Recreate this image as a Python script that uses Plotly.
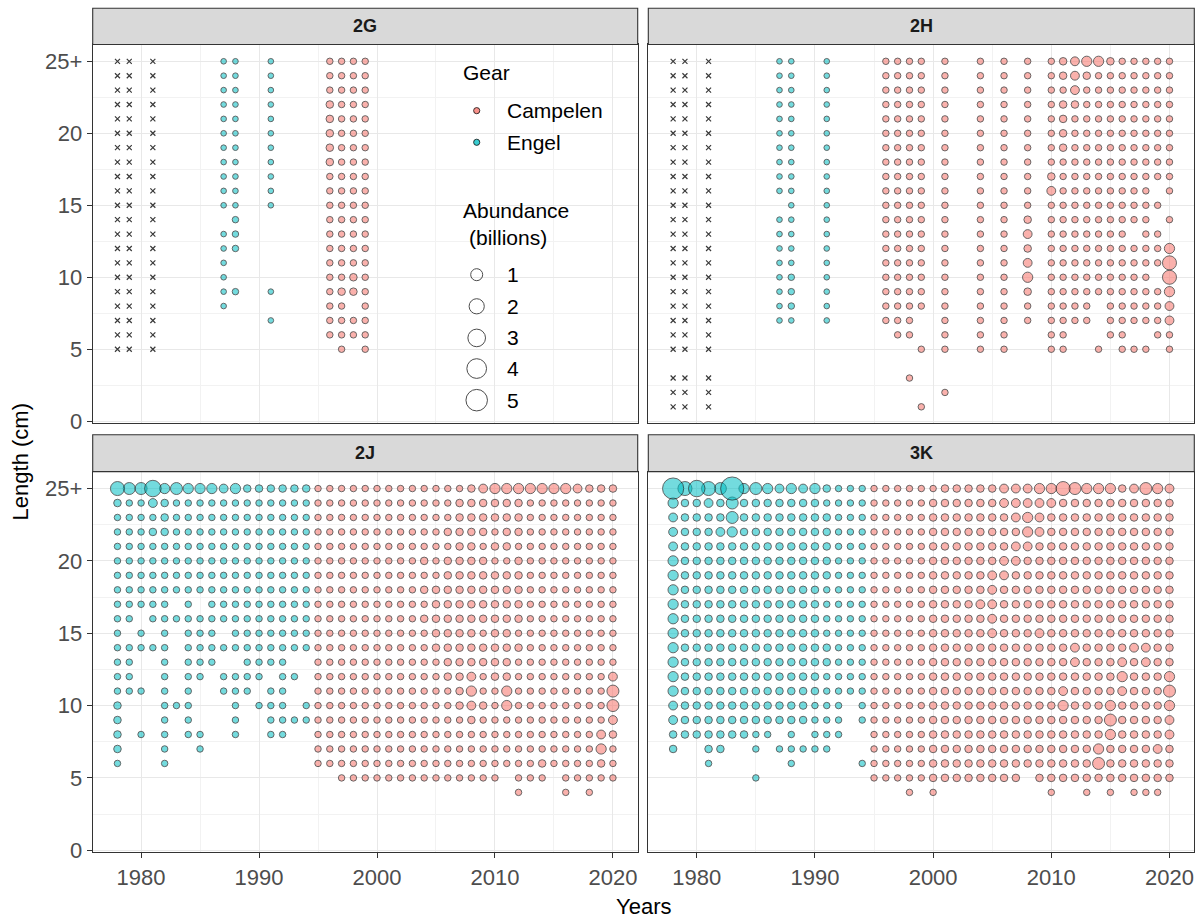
import plotly.graph_objects as go

W, H = 1202, 923
FONT = "Liberation Sans, Arial, sans-serif"

# ---------------------------------------------------------------- data
YEARS = list(range(1978, 2021))          # grid columns
LENGTHS = list(range(25, 0, -1))          # grid rows, 25+ cm first
GEAR_SWITCH_YEAR = 1995                   # Engel trawl before, Campelen from then on
DIVISIONS = ["2G", "2H", "2J", "3K"]

# abundance class (billions) of each grid character;
# "." = no catch, "x" = length class not available for that survey
ABUNDANCE_CLASS = {"1": 0.03, "2": 0.08, "3": 0.18, "4": 0.35, "5": 0.6,
                   "6": 1.0, "7": 1.6, "8": 2.5, "9": 3.6, "A": 4.8, "B": 6.0}

# column groups: 78-79 | 80-84 | 85-89 | 90-94 | 95-99 | 00-04 | 05-09 | 10-14 | 15-19 | 20
GRID_2G = [
    "xx .x... ..11. .1... .2222 ..... ..... ..... ..... .",  # 25+
    "xx .x... ..11. .1... .2222 ..... ..... ..... ..... .",  # 24
    "xx .x... ..11. .1... .2222 ..... ..... ..... ..... .",  # 23
    "xx .x... ..11. .1... .3222 ..... ..... ..... ..... .",  # 22
    "xx .x... ..11. .1... .3222 ..... ..... ..... ..... .",  # 21
    "xx .x... ..11. .1... .3222 ..... ..... ..... ..... .",  # 20
    "xx .x... ..11. .1... .3222 ..... ..... ..... ..... .",  # 19
    "xx .x... ..11. .1... .3222 ..... ..... ..... ..... .",  # 18
    "xx .x... ..11. .1... .2222 ..... ..... ..... ..... .",  # 17
    "xx .x... ..11. .1... .2222 ..... ..... ..... ..... .",  # 16
    "xx .x... ..11. .1... .2222 ..... ..... ..... ..... .",  # 15
    "xx .x... ...2. ..... .2222 ..... ..... ..... ..... .",  # 14
    "xx .x... ..12. ..... .2222 ..... ..... ..... ..... .",  # 13
    "xx .x... ..12. ..... .2222 ..... ..... ..... ..... .",  # 12
    "xx .x... ..1.. ..... .2222 ..... ..... ..... ..... .",  # 11
    "xx .x... ..1.. ..... .2232 ..... ..... ..... ..... .",  # 10
    "xx .x... ..12. .1... .2332 ..... ..... ..... ..... .",  # 9
    "xx .x... ..1.. ..... .22.2 ..... ..... ..... ..... .",  # 8
    "xx .x... ..... .1... .2222 ..... ..... ..... ..... .",  # 7
    "xx .x... ..... ..... .2222 ..... ..... ..... ..... .",  # 6
    "xx .x... ..... ..... ..2.2 ..... ..... ..... ..... .",  # 5
    ".. ..... ..... ..... ..... ..... ..... ..... ..... .",  # 4
    ".. ..... ..... ..... ..... ..... ..... ..... ..... .",  # 3
    ".. ..... ..... ..... ..... ..... ..... ..... ..... .",  # 2
    ".. ..... ..... ..... ..... ..... ..... ..... ..... .",  # 1
]

GRID_2H = [
    "xx .x... ..11. .1... .2222 .2..2 .2.2. 23455 32222 2",  # 25+
    "xx .x... ..11. .1... .2222 .2..2 .2.2. 23432 22222 2",  # 24
    "xx .x... ..11. .1... .2222 .2..2 .2.2. 22422 22222 2",  # 23
    "xx .x... ..11. .1... .2222 .2..2 .2.2. 23322 22222 2",  # 22
    "xx .x... ..11. .1... .2222 .2..2 .2.2. 23222 22222 2",  # 21
    "xx .x... ..11. .1... .2222 .2..2 .2.2. 23222 22222 2",  # 20
    "xx .x... ..11. .1... .2222 .2..2 .2.2. 23222 22222 2",  # 19
    "xx .x... ..11. .1... .2222 .2..2 .2.2. 22222 22222 2",  # 18
    "xx .x... ..11. .1... .2222 .2..2 .2.2. 32222 22222 2",  # 17
    "xx .x... ..11. .1... .2222 .2..2 .2.2. 42222 2222. 2",  # 16
    "xx .x... ...1. .1... .2222 .2..2 .2.2. 22222 22222 .",  # 15
    "xx .x... ..11. .1... .2222 .2..2 .2.3. 22222 2222. 2",  # 14
    "xx .x... ..11. .1... .2222 .2..2 .2.4. 22222 22.22 .",  # 13
    "xx .x... ..11. .1... .2222 .2..2 .2.3. 22222 22222 5",  # 12
    "xx .x... ..11. .1... .2222 .2..2 .2.4. 22222 22222 7",  # 11
    "xx .x... ..12. .1... .2222 .2..2 .2.5. 22222 2222. 7",  # 10
    "xx .x... ..12. .1... .2222 .2..2 .2.3. 22222 22222 5",  # 9
    "xx .x... ..12. .1... .2222 .2..2 .2.2. 2222. 22222 4",  # 8
    "xx .x... ..11. .1... .222. .2..2 .2.2. 2222. 22222 4",  # 7
    "xx .x... ..... ..... ..22. .2..2 .2... 22... 22..2 2",  # 6
    "xx .x... ..... ..... ....2 .2..2 .2... 22..2 .222. 2",  # 5
    ".. ..... ..... ..... ..... ..... ..... ..... ..... .",  # 4
    "xx .x... ..... ..... ...2. ..... ..... ..... ..... .",  # 3
    "xx .x... ..... ..... ..... .2... ..... ..... ..... .",  # 2
    "xx .x... ..... ..... ....2 ..... ..... ..... ..... .",  # 1
]

GRID_2J = [
    "76 68565 55453 33333 22222 22222 22234 55555 55433 3",  # 25+
    "32 24322 22222 22222 22222 22222 22333 33322 22222 2",  # 24
    "22 22322 22222 22222 22222 22222 22333 33322 22222 2",  # 23
    "22 23322 22222 22222 22222 22222 23333 23322 22222 2",  # 22
    "22 22222 22222 22222 22222 22222 22332 33222 22222 2",  # 21
    "22 22222 22222 22222 22222 22223 23333 22322 22222 2",  # 20
    "22 22222 22222 22222 22222 22222 23333 33322 22222 2",  # 19
    "22 22222 22222 22222 22222 22223 33333 33322 22222 2",  # 18
    "22 222.2 .2222 22222 22222 22222 33333 33322 22222 2",  # 17
    "22 .2222 22222 22222 22222 22223 33333 33322 22222 2",  # 16
    "2. 2.2.2 22.22 22222 22222 22222 33332 33222 22222 2",  # 15
    "22 222.2 22222 22222 22222 22222 33333 33322 22222 2",  # 14
    "22 ..2.2 22..2 222.. 22222 22222 23333 33222 22222 2",  # 13
    "22 ..2.2 2.222 2.22. 22222 22222 23342 33222 22222 4",  # 12
    "22 2.2.2 ..222 .22.. 22222 22222 22352 25222 22222 6",  # 11
    "3. ..222 ...2. 222.2 22222 22222 22343 25222 22222 6",  # 10
    "3. ..2.2 ...2. .2222 22222 22222 22232 22222 22222 4",  # 9
    "3. 2.2.2 2..2. .22.. 22222 22222 22222 22222 22224 3",  # 8
    "3. ..2.. 2.... ..... 22222 22222 22222 22222 22225 2",  # 7
    "2. ..2.. ..... ..... 22222 22222 22222 22223 22223 2",  # 6
    ".. ..... ..... ..... ..222 22222 22222 2.222 .2222 2",  # 5
    ".. ..... ..... ..... ..... ..... ..... ..2.. .2.2. .",  # 4
    ".. ..... ..... ..... ..... ..... ..... ..... ..... .",  # 3
    ".. ..... ..... ..... ..... ..... ..... ..... ..... .",  # 2
    ".. ..... ..... ..... ..... ..... ..... ..... ..... .",  # 1
]

GRID_3K = [
    "A7 876B5 65454 53222 22222 23333 34445 57655 53465 4",  # 25+
    "53 34363 33333 32222 22222 33333 34444 43333 33333 3",  # 24
    "43 33363 33333 33222 22222 33333 33454 33333 33333 3",  # 23
    "43 33453 33333 33222 22222 33333 33354 33333 33333 3",  # 22
    "43 33333 33333 33222 22222 33333 33443 33333 33333 3",  # 21
    "53 33333 33333 33222 22222 33333 34433 33333 33333 3",  # 20
    "53 33333 33333 33222 22222 33333 44333 33333 33333 3",  # 19
    "53 33333 33333 32222 22222 33333 43333 33333 33333 3",  # 18
    "53 33333 33333 32222 22222 33334 43333 33333 33333 3",  # 17
    "53 33333 33333 32222 22222 33333 43333 33333 33333 3",  # 16
    "53 33333 33333 32222 22222 33333 43334 33333 33333 3",  # 15
    "53 33333 33333 33222 22222 33333 33333 33433 33443 3",  # 14
    "53 33333 33333 33222 22222 33333 33333 33433 34343 3",  # 13
    "53 33333 33333 32222 22222 33333 33333 33333 35333 5",  # 12
    "53 33333 33333 32222 22222 33333 33333 34333 34333 6",  # 11
    "43 33333 33333 222.2 22222 33333 33333 35333 53333 5",  # 10
    "43 33333 33333 222.2 22222 33333 33333 33333 63333 4",  # 9
    "33 33333 22.2. 222.. 22222 33333 33333 33333 53333 4",  # 8
    "3. .33.. 2.222 22... 22222 33333 33333 33335 33334 3",  # 7
    ".. .2... ...2. ....2 22222 33333 33333 33336 33333 3",  # 6
    ".. ..... 2.... ..... 22222 33333 333.3 33333 33333 3",  # 5
    ".. ..... ..... ..... ...2. 2.... ..... 2..2. 2.222 .",  # 4
    ".. ..... ..... ..... ..... ..... ..... ..... ..... .",  # 3
    ".. ..... ..... ..... ..... ..... ..... ..... ..... .",  # 2
    ".. ..... ..... ..... ..... ..... ..... ..... ..... .",  # 1
]

GRIDS = {"2G": GRID_2G, "2H": GRID_2H, "2J": GRID_2J, "3K": GRID_3K}

GEARS = ["Campelen", "Engel"]
LEGEND_ABUNDANCE = [1, 2, 3, 4, 5]
Y_TICKS = [0, 5, 10, 15, 20, 25]
Y_TICK_TEXT = ["0", "5", "10", "15", "20", "25+"]
X_TICKS = [1980, 1990, 2000, 2010, 2020]

# ---------------------------------------------------------------- style
GEAR_FILL = {"Campelen": "rgba(248,118,109,0.8)", "Engel": "rgba(0,191,196,0.78)"}
EDGE = "rgba(20,20,20,0.9)"
GRID_MAJOR = "#e8e8e8"
GRID_MINOR = "#f2f2f2"
BORDER = "#333333"

# panel boxes in pixels: (left, right), (top, bottom)
COLS = [(92.7, 637.7), (648.3, 1194.3)]
ROWS = [(45.0, 428.5), (477.3, 862.7)]
STRIPS = [(8.3, 45.0), (440.0, 477.3)]
X_RANGE = [1975.9, 2022.1]
Y_RANGE = [-0.15, 26.17]


def diameter(abundance):
    """Marker diameter (px) with area growing with abundance."""
    return 5.3 + 7.7 * abundance ** 0.5


def px(x):
    return x / W


def py(y):
    return 1 - y / H


def collect(grid):
    marks = {g: {"x": [], "y": [], "a": []} for g in GEARS}
    unsampled = {"x": [], "y": []}
    for length, row in zip(LENGTHS, grid):
        cells = row.replace(" ", "")
        assert len(cells) == len(YEARS), (length, len(cells))
        for year, c in zip(YEARS, cells):
            if c == ".":
                continue
            if c == "x":
                unsampled["x"].append(year)
                unsampled["y"].append(length)
                continue
            gear = "Engel" if year < GEAR_SWITCH_YEAR else "Campelen"
            marks[gear]["x"].append(year)
            marks[gear]["y"].append(length)
            marks[gear]["a"].append(ABUNDANCE_CLASS[c])
    return marks, unsampled


fig = go.Figure()
layout = {}
shapes = []
annotations = []

for i, div in enumerate(DIVISIONS):
    r, c = divmod(i, 2)
    suffix = "" if i == 0 else str(i + 1)
    xref, yref = "x" + suffix, "y" + suffix

    marks, unsampled = collect(GRIDS[div])
    if unsampled["x"]:
        fig.add_trace(go.Scatter(
            x=unsampled["x"], y=unsampled["y"], mode="markers", xaxis=xref, yaxis=yref,
            marker=dict(symbol="x-thin", size=5, line=dict(width=1.2, color="#3a3a3a")),
            showlegend=False, hoverinfo="skip"))
    for gear in ["Engel", "Campelen"]:
        m = marks[gear]
        if not m["x"]:
            continue
        order = sorted(range(len(m["a"])), key=lambda k: m["a"][k])
        fig.add_trace(go.Scatter(
            x=[m["x"][k] for k in order], y=[m["y"][k] for k in order],
            mode="markers", xaxis=xref, yaxis=yref, name=gear,
            customdata=[m["a"][k] for k in order],
            marker=dict(size=[diameter(m["a"][k]) - 1 for k in order],
                        color=GEAR_FILL[gear], line=dict(width=1, color=EDGE)),
            hovertemplate=gear + "<br>%{x}, %{y} cm<br>%{customdata} billions<extra></extra>",
            showlegend=False))

    (x0, x1), (y0, y1) = COLS[c], ROWS[r]
    bottom = r == 1
    left = c == 0
    layout["xaxis" + suffix] = dict(
        domain=[px(x0), px(x1)], range=X_RANGE, anchor=yref,
        showline=True, mirror=True, linecolor=BORDER, linewidth=1.1,
        showgrid=True, gridcolor=GRID_MAJOR, gridwidth=1.3, zeroline=False,
        tickvals=X_TICKS, showticklabels=bottom,
        ticks="outside" if bottom else "", ticklen=5, tickwidth=1.1, tickcolor=BORDER,
        tickfont=dict(family=FONT, size=22, color="#4d4d4d"),
        minor=dict(tickvals=[1985, 1995, 2005, 2015], showgrid=True,
                   gridcolor=GRID_MINOR, gridwidth=1, ticks=""),
        fixedrange=True)
    layout["yaxis" + suffix] = dict(
        domain=[py(y1), py(y0)], range=Y_RANGE, anchor=xref,
        showline=True, mirror=True, linecolor=BORDER, linewidth=1.1,
        showgrid=True, gridcolor=GRID_MAJOR, gridwidth=1.3, zeroline=False,
        tickvals=Y_TICKS, ticktext=Y_TICK_TEXT, showticklabels=left,
        ticks="outside" if left else "", ticklen=5, tickwidth=1.1, tickcolor=BORDER,
        tickfont=dict(family=FONT, size=22, color="#4d4d4d"),
        minor=dict(tickvals=[2.5, 7.5, 12.5, 17.5, 22.5], showgrid=True,
                   gridcolor=GRID_MINOR, gridwidth=1, ticks=""),
        fixedrange=True)

    # facet strip
    s0, s1 = STRIPS[r]
    shapes.append(dict(type="rect", xref="paper", yref="paper",
                       x0=px(x0), x1=px(x1), y0=py(s1), y1=py(s0),
                       fillcolor="#d9d9d9", line=dict(color=BORDER, width=1.1), layer="above"))
    annotations.append(dict(text="<b>%s</b>" % div, xref="paper", yref="paper",
                            x=px((x0 + x1) / 2), y=py((s0 + s1) / 2),
                            xanchor="center", yanchor="middle", showarrow=False,
                            font=dict(family=FONT, size=18, color="#1a1a1a")))

# axis titles
annotations.append(dict(text="Length (cm)", xref="paper", yref="paper",
                        x=px(20), y=py(468), textangle=-90, showarrow=False,
                        xanchor="center", yanchor="middle",
                        font=dict(family=FONT, size=22, color="black")))
annotations.append(dict(text="Years", xref="paper", yref="paper",
                        x=px((COLS[0][0] + COLS[1][1]) / 2), y=py(917), showarrow=False,
                        xanchor="center", yanchor="middle",
                        font=dict(family=FONT, size=22, color="black")))

# legends drawn inside the 2G panel
LEG_X, KEY_X, LABEL_X = 461, 476.7, 505
legend_font = dict(family=FONT, size=21, color="black")


def legend_text(text, x, y):
    annotations.append(dict(text=text, xref="paper", yref="paper", x=px(x), y=py(y),
                            xanchor="left", yanchor="middle", showarrow=False,
                            font=legend_font))


def legend_circle(x, y, d, fill, line_color, width):
    shapes.append(dict(type="circle", xref="paper", yref="paper",
                       xsizemode="pixel", ysizemode="pixel",
                       xanchor=px(x), yanchor=py(y),
                       x0=-d / 2, x1=d / 2, y0=-d / 2, y1=d / 2,
                       fillcolor=fill, line=dict(color=line_color, width=width),
                       layer="above"))


legend_text("Gear", LEG_X, 73)
for gear, gy in zip(GEARS, [112, 144]):
    legend_circle(KEY_X, gy, 6.2, GEAR_FILL[gear], EDGE, 0.9)
    legend_text(gear, LABEL_X, gy)

legend_text("Abundance", LEG_X, 213)
legend_text("(billions)", LEG_X + 6, 240)
for value, gy in zip(LEGEND_ABUNDANCE, [278, 310, 342, 373, 405]):
    legend_circle(KEY_X, gy, diameter(value) - 1, "rgba(0,0,0,0)", "#4d4d4d", 1)
    legend_text(str(value), LABEL_X, gy)

fig.update_layout(
    width=W, height=H, margin=dict(l=0, r=0, t=0, b=0),
    paper_bgcolor="white", plot_bgcolor="white",
    font=dict(family=FONT), showlegend=False,
    shapes=shapes, annotations=annotations, **layout)

fig.write_html("out.html")
